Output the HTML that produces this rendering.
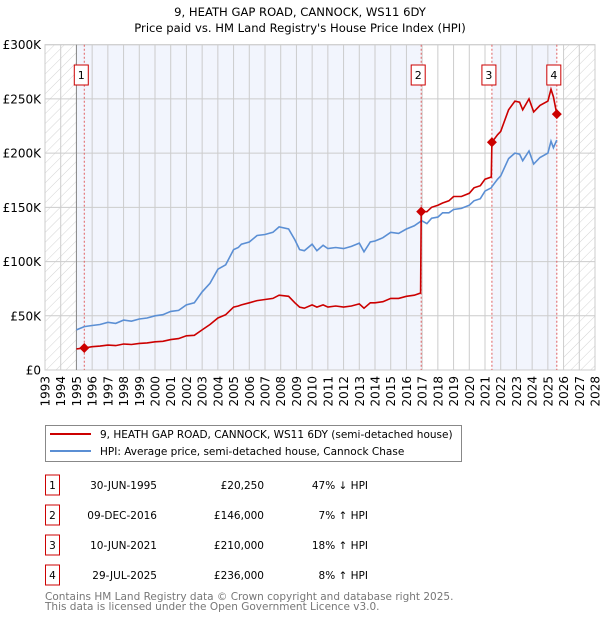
<!DOCTYPE html>
<html><head><meta charset="utf-8"><style>
body{margin:0;background:#fff;font-family:"DejaVu Sans","Liberation Sans",sans-serif;}
#wrap{position:relative;width:600px;height:620px;overflow:hidden}
svg text{font-family:"DejaVu Sans","Liberation Sans",sans-serif;}
</style></head><body><div id="wrap">
<svg id="svg" width="600" height="620" xmlns="http://www.w3.org/2000/svg">
<defs><pattern id="hatch" patternUnits="userSpaceOnUse" width="7" height="7" patternTransform="rotate(45)"><line x1="0" y1="0" x2="0" y2="7" stroke="#d4d4d4" stroke-width="1"/></pattern></defs>
<text x="300" y="16" text-anchor="middle" font-size="11.6">9, HEATH GAP ROAD, CANNOCK, WS11 6DY</text>
<text x="300" y="32" text-anchor="middle" font-size="11.6">Price paid vs. HM Land Registry's House Price Index (HPI)</text>
<g id="plot"></g>
<g>
<rect x="45.5" y="425.5" width="416" height="36" fill="#fff" stroke="#888"/>
<line x1="50" y1="434" x2="91" y2="434" stroke="#cc0000" stroke-width="2"/>
<text x="100" y="438" font-size="10.5">9, HEATH GAP ROAD, CANNOCK, WS11 6DY (semi-detached house)</text>
<line x1="50" y1="451" x2="91" y2="451" stroke="#5b8fd4" stroke-width="2"/>
<text x="100" y="455" font-size="10.5">HPI: Average price, semi-detached house, Cannock Chase</text>
</g>
<g id="table"></g>
<text x="45" y="600" font-size="10.5" fill="#777">Contains HM Land Registry data © Crown copyright and database right 2025.</text>
<text x="45" y="610" font-size="10.5" fill="#777">This data is licensed under the Open Government Licence v3.0.</text>
</svg></div>
<script>
const times=[1995.0,1995.5,1996.0,1996.5,1997.0,1997.5,1998.0,1998.5,1999.0,1999.5,2000.0,2000.5,2001.0,2001.5,2002.0,2002.5,2003.0,2003.5,2004.0,2004.5,2005.0,2005.3,2005.5,2006.0,2006.5,2007.0,2007.5,2007.9,2008.5,2008.9,2009.2,2009.5,2010.0,2010.3,2010.7,2011.0,2011.5,2012.0,2012.5,2013.0,2013.3,2013.7,2014.0,2014.5,2015.0,2015.5,2016.0,2016.5,2016.9,2016.94,2017.3,2017.6,2018.0,2018.3,2018.7,2019.0,2019.5,2020.0,2020.3,2020.7,2021.0,2021.4,2021.44,2021.8,2022.0,2022.5,2022.9,2023.2,2023.4,2023.8,2024.1,2024.5,2025.0,2025.2,2025.35,2025.57];
const hpi=[37,40,41,42,44,43,46,45,47,48,50,51,54,55,60,62,72,80,93,97,111,113,116,118,124,125,127,132,130,120,111,110,116,110,115,112,113,112,114,117,109,118,119,122,127,126,130,133,137,138,135,140,141,145,145,148,149,152,156,158,165,168,169,176,179,195,200,199,193,202,190,196,200,211,205,212];
const price=[19.5,20.25,21.5,22,23,22.5,24,23.5,24.5,25,26,26.5,28,29,31.5,32,37,42,48,51,58,59,60,62,64,65,66,69,68,62,58,57,60,58,60,58,59,58,59,61,57,62,62,63,66,66,68,69,71,146,146,150,152,154,156,160,160,163,168,170,176,178,210,217,220,240,248,247,240,250,238,244,248,259,252,236];
const saleLabels=["1","2","3","4"];
const saleTimes=[1995.5,2016.94,2021.44,2025.57];
const salePrices=[20250,146000,210000,236000];
const saleDates=["30-JUN-1995","09-DEC-2016","10-JUN-2021","29-JUL-2025"];
const salePriceText=["£20,250","£146,000","£210,000","£236,000"];
const saleHpiText=["47% ↓ HPI","7% ↑ HPI","18% ↑ HPI","8% ↑ HPI"];
const yTicks=[0,50,100,150,200,250,300];
const yTickLabels=["£0","£50K","£100K","£150K","£200K","£250K","£300K"];

const NS="http://www.w3.org/2000/svg";
const X0=45,X1=595,Y0=370,Y1=44.7,T0=1993,T1=2028,VMAX=300;
const xs=t=>X0+(t-T0)/(T1-T0)*(X1-X0);
const ys=v=>Y0-v/VMAX*(Y0-Y1);
const g=document.getElementById('plot');
function mk(tag,attrs,parent){const e=document.createElementNS(NS,tag);for(const k in attrs)e.setAttribute(k,attrs[k]);(parent||g).appendChild(e);return e;}
let r=mk('rect',{x:X0,y:Y1,width:X1-X0,height:Y0-Y1,fill:'#fff'});


r=mk('rect',{x:xs(1995),y:Y1,width:xs(saleTimes[1])-xs(1995),height:Y0-Y1,fill:'#f2f5fd'});


r=mk('rect',{x:xs(saleTimes[2]),y:Y1,width:xs(saleTimes[3])-xs(saleTimes[2]),height:Y0-Y1,fill:'#f2f5fd'});


r=mk('rect',{x:X0,y:Y1,width:xs(1995)-X0,height:Y0-Y1,fill:'url(#hatch)'});


r=mk('rect',{x:xs(2026),y:Y1,width:X1-xs(2026),height:Y0-Y1,fill:'url(#hatch)'});


for(let yr=T0;yr<=T1;yr++){
 const l=mk('line',{x1:xs(yr),x2:xs(yr),y1:Y1,y2:Y0,stroke:'#ccc','stroke-width':1});
 
 
 const tx=mk('text',{x:0,y:0,transform:`translate(${xs(yr)+4.5},376) rotate(-90)`,'text-anchor':'end','font-size':12});
 tx.textContent=yr;
 
 
}
yTicks.forEach((v,i)=>{
 const l=mk('line',{x1:X0,x2:X1,y1:ys(v),y2:ys(v),stroke:'#ccc','stroke-width':1});
 
 
 const tx=mk('text',{x:41,y:ys(v)+4.5,'text-anchor':'end','font-size':12});
 tx.textContent=yTickLabels[i];
 
 
});
r=mk('rect',{x:X0,y:Y1,width:X1-X0,height:Y0-Y1,fill:'none',stroke:'#ccc'});


let l=mk('line',{x1:xs(1995),x2:xs(1995),y1:Y1,y2:Y0,stroke:'#888'});


saleTimes.forEach((t,i)=>{
 const ln=mk('line',{x1:xs(t),x2:xs(t),y1:Y1,y2:Y0,stroke:'#e06060','stroke-width':1,'stroke-dasharray':'2,2'});
 
 
});
const hp=mk('path',{d:times.map((t,i)=>(i?'L':'M')+xs(t).toFixed(1)+','+ys(hpi[i]).toFixed(1)).join(''),fill:'none',stroke:'#5b8fd4','stroke-width':1.6});


const pp=mk('path',{d:times.map((t,i)=>(i?'L':'M')+xs(t).toFixed(1)+','+ys(price[i]).toFixed(1)).join(''),fill:'none',stroke:'#cc0000','stroke-width':1.6});


saleTimes.forEach((t,i)=>{
 const cx=xs(t),cy=ys(salePrices[i]/1000);
 const d=mk('path',{d:`M${cx},${cy-5}L${cx+5},${cy}L${cx},${cy+5}L${cx-5},${cy}Z`,fill:'#cc0000'});
 
 
 const bx=mk('rect',{x:cx-10,y:65,width:14,height:20,fill:'#fff',stroke:'#cc0000'});
 
 
 const tx=mk('text',{x:cx-3,y:79,'text-anchor':'middle','font-size':11});
 tx.textContent=saleLabels[i];
 
 
});
const tb=document.getElementById('table');
const rowY=[485,515,545,575];
saleLabels.forEach((s,i)=>{
 const y=rowY[i];
 const bx=mk('rect',{x:45.5,y:y-10,width:14,height:20,fill:'#fff',stroke:'#cc0000'},tb);
 
 
 const cells=[[52.5,s,'middle'],[157,saleDates[i],'end'],[264,salePriceText[i],'end'],[368,saleHpiText[i],'end']];
 cells.forEach(c=>{
  const tx=mk('text',{x:c[0],y:y+4,'text-anchor':c[2],'font-size':10.5},tb);
  tx.textContent=c[1];
  
  
 });
});
</script></body></html>
